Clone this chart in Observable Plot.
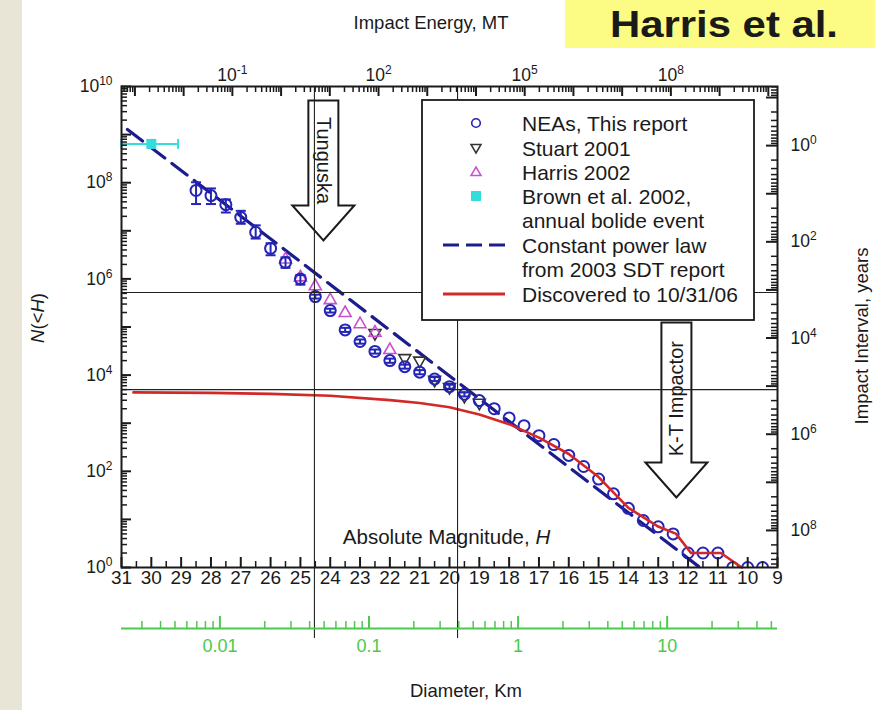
<!DOCTYPE html>
<html><head><meta charset="utf-8">
<script src="https://cdn.jsdelivr.net/npm/d3@7"></script>
<script src="https://cdn.jsdelivr.net/npm/@observablehq/plot@0.6"></script>
<style>
html,body{margin:0;padding:0;background:#fff;}
#chart{position:relative;width:875px;height:710px;overflow:hidden;}
</style></head><body><div id="chart"></div>
<script>
// ---------------- data ----------------
// NEAs, This report (absolute magnitude H, cumulative N(<H))
const neaH = [28.5,28,27.5,27,26.5,26,25.5,25,24.5,24,23.5,23,22.5,22,21.5,21,20.5,20,19.5,19,18.5,18,17.5,17,16.5,16,15.5,15,14.5,14,13.5,13,12.5,12,11.5,11,10.5,10,9.5];
const neaN = [6.9e7,5.4e7,3.5e7,1.9e7,9.3e6,4.3e6,2.2e6,1.0e6,4.3e5,2.2e5,8.7e4,5.0e4,3.1e4,2.0e4,1.5e4,1.15e4,8300,5750,4000,2950,2000,1290,890,550,360,214,126,69,34,17,9.5,7,5,2,2,2,1,1,1];
// NEA error bars
const errH  = [28.5,28,27.5,27,26.5,26,25.5,25,24.5,24,23.5,23,22.5,22,21.5,21,20.5,20,19.5];
const errLo = [3.6e7,3.6e7,2.4e7,1.4e7,6.9e6,3.1e6,1.7e6,7.6e5,3.9e5,2.0e5,7.9e4,4.5e4,2.8e4,1.8e4,1.36e4,1.04e4,7500,5200,3600];
const errHi = [1.02e8,7.6e7,4.5e7,2.6e7,1.3e7,5.5e6,2.8e6,1.2e6,4.7e5,2.4e5,9.6e4,5.5e4,3.4e4,2.2e4,1.65e4,1.27e4,9100,6300,4400];
// Stuart 2001
const stuartH = [22.5,21.5,21,20.5,20,19.5,19];
const stuartN = [7.3e4,2.2e4,1.95e4,7800,5500,3600,2600];
// Harris 2002
const harrisH = [25.5,25,24.5,24,23.5,23,22.5,22];
const harrisN = [2.6e6,1.1e6,7.2e5,3.7e5,2.0e5,1.17e5,7.8e4,3.4e4];
// Brown et al. 2002, annual bolide event
const brownH = [30], brownN = [6.4e8], brownHlo = [31], brownHhi = [29.1];
// Constant power law from 2003 SDT report
const powerH = [30.8, 11.6];
const powerN = [1.28e9, 1];
// Discovered to 10/31/06
const discH = [30.6,28,26,24,22,21,20,19,18,17,16,15,14,13,12.4,11.9,10.9,10.2];
const discN = [4365,4266,4074,3715,3020,2630,2138,1514,955,501,229,76,17.4,7.1,5.0,2.0,2.0,1];
// reference lines
const refH = [24.53, 19.73];
const refN = [5.2e5, 5000];
// annotations (arrow tips) and their labels
const arrowNames = ["Tunguska", "K-T Impactor"];
const arrowH = [24.23, 12.39];
const arrowN = [6.3e6, 28.5];
const arrowLabelN = [2.9e8, 3240];
// tick labels
const hLabels = [31,30,29,28,27,26,25,24,23,22,21,20,19,18,17,16,15,14,13,12,11,10,9];
const nLabelExp = [0,2,4,6,8,10];
const energyLabelExp = [-1,2,5,8];
const intervalLabelExp = [0,2,4,6,8];
const diamLabels = ["0.01","0.1","1","10"];
const legendLabels = ["NEAs, This report","Stuart 2001","Harris 2002","Brown et al. 2002,","annual bolide event","Constant power law","from 2003 SDT report","Discovered to 10/31/06"];

// ---------------- secondary-axis conversions ----------------
const energyToH = E => 22.38 - (Math.log10(E) - 2) / 0.612;
const intervalToN = I => 5.9e8 / I;
const diamToH = D => 17.7 - 5 * Math.log10(D);

function logTicks(lo, hi) {
  const major = [], minor = [];
  for (let k = lo; k <= hi; k++) { major.push(Math.pow(10, k)); for (let m = 2; m <= 9; m++) minor.push(m * Math.pow(10, k)); }
  return {major, minor};
}
const inH = h => h <= 31.001 && h >= 8.999;
const inN = n => n >= 0.999 && n <= 1.001e10;

const nT = logTicks(0, 9); nT.major.push(1e10);
const eT = logTicks(-4, 10);
const eMajor = eT.major.filter(e => inH(energyToH(e)));
const eMinor = eT.minor.filter(e => inH(energyToH(e)));
const iT = logTicks(-2, 9);
const iMajor = iT.major.filter(i => inN(intervalToN(i)));
const iMinor = iT.minor.filter(i => inN(intervalToN(i)));
const dT = logTicks(-3, 1);
const dMajor = dT.major.filter(d => inH(diamToH(d)));
const dMinor = dT.minor.filter(d => inH(diamToH(d)));
const hMajor = d3.range(9, 31.5, 1);
const hMinor = d3.range(9.5, 31, 1);

// ---------------- styling ----------------
const W = 875, H = 710, mL = 121, mR = 98, mT = 86, mB = 143;
const fw = W - mL - mR, fh = H - mT - mB;
const blue = "#2424b6", navy = "#1c1c8c", red = "#d32828", magenta = "#cc4fd0", cyan = "#35dcdc", green = "#4cc94c", ink = "#1a1a1a";
const FONT = "'Liberation Sans', Arial, sans-serif";

const nea = neaH.map((h, i) => ({h, n: neaN[i]}));
const neaErr = errH.map((h, i) => ({h, lo: errLo[i], hi: errHi[i]}));
const stuart = stuartH.map((h, i) => ({h, n: stuartN[i]}));
const harris = harrisH.map((h, i) => ({h, n: harrisN[i]}));
const brown = brownH.map((h, i) => ({h, n: brownN[i], lo: brownHlo[i], hi: brownHhi[i]}));
const power = powerH.map((h, i) => ({h, n: powerN[i]}));
const disc = discH.map((h, i) => ({h, n: discN[i]}));
const arrows = arrowNames.map((name, i) => ({name, h: arrowH[i], n: arrowN[i], ln: arrowLabelN[i]}));
const yMin = 1; // bottom of the y domain: points sitting on it are cut by the frame

const capH = {draw(c) { c.moveTo(-5, 0); c.lineTo(5, 0); }};
const capV = {draw(c) { c.moveTo(0, -5); c.lineTo(0, 5); }};
const triUp = {draw(c) { c.moveTo(0, -6.5); c.lineTo(6, 4); c.lineTo(-6, 4); c.closePath(); }};
const triDown = {draw(c) { c.moveTo(0, 6.5); c.lineTo(6, -4); c.lineTo(-6, -4); c.closePath(); }};
const squareSym = {draw(c) { c.rect(-5, -5, 10, 10); }};
const halfCircle = {draw(c) { c.moveTo(5.5, 0); c.arc(0, 0, 5.5, 0, Math.PI, true); }};
function arrowSym(shaft) {
  return {draw(c) { const sw = 15, hw = 31, hh = 35;
    c.moveTo(0, 0); c.lineTo(-hw, -hh); c.lineTo(-sw, -hh); c.lineTo(-sw, -shaft);
    c.lineTo(sw, -shaft); c.lineTo(sw, -hh); c.lineTo(hw, -hh); c.closePath(); }};
}
const sup = e => "10^" + e;

const svg = Plot.plot({
  width: W, height: H,
  marginLeft: mL, marginRight: mR, marginTop: mT, marginBottom: mB,
  style: {fontFamily: FONT, fontSize: "17px", background: "transparent", overflow: "visible", color: ink},
  x: {type: "linear", domain: [31, 9], axis: null},
  y: {type: "log", domain: [1, 1e10], axis: null},
  marks: [
    // arrows (annotations)
    Plot.dot([arrows[0]], {x: "h", y: "n", symbol: arrowSym(140), r: 10, fill: "white", stroke: ink, strokeWidth: 2}),
    Plot.dot([arrows[1]], {x: "h", y: "n", symbol: arrowSym(175), r: 10, fill: "white", stroke: ink, strokeWidth: 2}),
    Plot.text([arrows[0]], {x: "h", y: "ln", text: "name", rotate: 90, fontSize: 20, fill: ink}),
    Plot.text([arrows[1]], {x: "h", y: "ln", text: "name", rotate: -90, fontSize: 20, fill: ink}),
    // power law
    Plot.line(power, {x: "h", y: "n", stroke: navy, strokeWidth: 3.2, strokeDasharray: "19,9"}),
    // Stuart, Harris
    Plot.dot(stuart, {x: "h", y: "n", symbol: triDown, r: 6, fill: "none", stroke: "#333", strokeWidth: 1.6}),
    Plot.dot(harris, {x: "h", y: "n", symbol: triUp, r: 6, fill: "none", stroke: magenta, strokeWidth: 1.6}),
    // NEA error bars
    Plot.ruleX(neaErr, {x: "h", y1: "lo", y2: "hi", stroke: blue, strokeWidth: 2}),
    Plot.dot(neaErr, {x: "h", y: "lo", symbol: capH, r: 5, fill: "none", stroke: blue, strokeWidth: 2}),
    Plot.dot(neaErr, {x: "h", y: "hi", symbol: capH, r: 5, fill: "none", stroke: blue, strokeWidth: 2}),
    // NEA circles (those on the bottom edge are cut by the frame)
    Plot.dot(nea.filter(d => d.n > yMin), {x: "h", y: "n", r: 5.5, fill: "none", stroke: blue, strokeWidth: 2}),
    Plot.dot(nea.filter(d => d.n <= yMin), {x: "h", y: "n", symbol: halfCircle, r: 5.5, fill: "none", stroke: blue, strokeWidth: 2}),
    // Brown
    Plot.ruleY(brown, {y: "n", x1: "lo", x2: "hi", stroke: cyan, strokeWidth: 2}),
    Plot.dot(brown, {x: "hi", y: "n", symbol: capV, r: 5, fill: "none", stroke: cyan, strokeWidth: 2}),
    Plot.dot(brown, {x: "lo", y: "n", symbol: capV, r: 5, fill: "none", stroke: cyan, strokeWidth: 2}),
    Plot.dot(brown, {x: "h", y: "n", symbol: squareSym, r: 5, fill: cyan, stroke: "none"}),
    // discovered
    Plot.line(disc, {x: "h", y: "n", stroke: red, strokeWidth: 2.6}),
    // absolute magnitude label
    Plot.text(["Absolute Magnitude, H"], {x: 20.1, y: 4.2, text: d => d, fontSize: 20.5, fill: ink}),
    // reference lines
    Plot.ruleX(refH, {x: d => d, insetBottom: -71, stroke: "#222", strokeWidth: 1.1, ariaLabel: "refx"}),
    Plot.ruleY(refN, {y: d => d, stroke: "#222", strokeWidth: 1.1}),
    // left axis ticks & labels
    Plot.ruleY(nT.major, {y: d => d, insetRight: fw - 10, stroke: ink, strokeWidth: 2}),
    Plot.ruleY(nT.minor, {y: d => d, insetRight: fw - 6, stroke: ink, strokeWidth: 1.5}),
    Plot.text(nLabelExp, {y: d => Math.pow(10, d), text: sup, frameAnchor: "left", dx: -9, textAnchor: "end", fontSize: 17.5, fill: ink}),
    // right axis (impact interval)
    Plot.ruleY(iMajor, {y: intervalToN, insetLeft: fw - 11, stroke: ink, strokeWidth: 2}),
    Plot.ruleY(iMinor, {y: intervalToN, insetLeft: fw - 6, stroke: ink, strokeWidth: 1.5}),
    Plot.text(intervalLabelExp, {y: d => intervalToN(Math.pow(10, d)), text: sup, frameAnchor: "right", dx: 13, textAnchor: "start", fontSize: 17.5, fill: ink}),
    // top axis (impact energy)
    Plot.ruleX(eMajor, {x: energyToH, insetBottom: fh - 10, stroke: ink, strokeWidth: 2}),
    Plot.ruleX(eMinor, {x: energyToH, insetBottom: fh - 6, stroke: ink, strokeWidth: 1.5}),
    Plot.text(energyLabelExp, {x: d => energyToH(Math.pow(10, d)), text: sup, frameAnchor: "top", dy: -18, fontSize: 17.5, fill: ink}),
    // bottom axis (H)
    Plot.ruleX(hMajor, {x: d => d, insetTop: fh - 10, stroke: ink, strokeWidth: 2}),
    Plot.ruleX(hMinor, {x: d => d, insetTop: fh - 6, stroke: ink, strokeWidth: 1.5}),
    Plot.text(hLabels, {x: d => d, frameAnchor: "bottom", dy: 16, fontSize: 19, fill: ink}),
    // diameter axis (green)
    Plot.ruleY([1], {y: d => d, dy: 61, stroke: green, strokeWidth: 2}),
    Plot.ruleX(dMajor, {x: diamToH, insetTop: 542 - 12, insetBottom: -61, stroke: green, strokeWidth: 2}),
    Plot.ruleX(dMinor, {x: diamToH, insetTop: 542 - 7, insetBottom: -61, stroke: green, strokeWidth: 1.5}),
    Plot.text(diamLabels, {x: d => diamToH(+d), text: d => d, frameAnchor: "bottom", dy: 84, fontSize: 18, fill: green}),
    Plot.frame({stroke: ink, strokeWidth: 2})
  ]
});

const ns = "http://www.w3.org/2000/svg";
// superscripts for 10^k labels
svg.querySelectorAll("text").forEach(t => {
  const m = /^10\^(-?\d+)$/.exec(t.textContent);
  if (m) {
    t.textContent = "10";
    const ts = document.createElementNS(ns, "tspan");
    ts.setAttribute("dy", "-7");
    ts.style.fontSize = "12px";
    ts.textContent = m[1];
    t.appendChild(ts);
  }
  if (t.textContent === "Absolute Magnitude, H") {
    t.textContent = "Absolute Magnitude, ";
    const ts = document.createElementNS(ns, "tspan");
    ts.setAttribute("font-style", "italic");
    ts.textContent = "H";
    t.appendChild(ts);
  }
});

const s = d3.select(svg);
// background strip
s.insert("rect", ":first-child").attr("x", 0).attr("y", 0).attr("width", 22).attr("height", H).attr("fill", "#e8e5d7");

// legend (inserted below the reference lines)
const refG = svg.querySelector('g[aria-label="refx"]');
const lg = d3.create("svg:g").attr("font-family", FONT).attr("font-size", 21).attr("fill", ink).attr("text-anchor", "start");
lg.append("rect").attr("x", 422).attr("y", 100).attr("width", 332).attr("height", 220)
  .attr("fill", "white").attr("stroke", ink).attr("stroke-width", 1.8);
const rowY = [123, 148, 172, 196, 220, 245, 269, 294];
legendLabels.forEach((lab, i) => {
  lg.append("text").attr("x", 522).attr("y", rowY[i]).attr("dy", "0.36em").attr("text-anchor", "start").text(lab);
});
const sx = 476;
lg.append("circle").attr("cx", sx).attr("cy", rowY[0]).attr("r", 4.3).attr("fill", "none").attr("stroke", blue).attr("stroke-width", 1.6);
lg.append("path").attr("d", `M${sx},${rowY[1]+5}L${sx+5},${rowY[1]-3.5}L${sx-5},${rowY[1]-3.5}Z`).attr("fill", "none").attr("stroke", "#333").attr("stroke-width", 1.5);
lg.append("path").attr("d", `M${sx},${rowY[2]-5}L${sx+5},${rowY[2]+3.5}L${sx-5},${rowY[2]+3.5}Z`).attr("fill", "none").attr("stroke", magenta).attr("stroke-width", 1.5);
lg.append("rect").attr("x", sx - 5).attr("y", rowY[3] - 5).attr("width", 10).attr("height", 10).attr("fill", cyan);
lg.append("line").attr("x1", 443).attr("x2", 505).attr("y1", rowY[5]).attr("y2", rowY[5]).attr("stroke", navy).attr("stroke-width", 3).attr("stroke-dasharray", "16,7");
lg.append("line").attr("x1", 443).attr("x2", 505).attr("y1", rowY[7]).attr("y2", rowY[7]).attr("stroke", red).attr("stroke-width", 3);
svg.insertBefore(lg.node(), refG);

// titles
const tg = s.append("g").attr("font-family", FONT).attr("fill", ink);
tg.append("text").attr("x", 431).attr("y", 23).attr("dy", "0.35em").attr("text-anchor", "middle").attr("font-size", 18.5).text("Impact Energy, MT");
tg.append("text").attr("x", 466).attr("y", 691).attr("dy", "0.35em").attr("text-anchor", "middle").attr("font-size", 18.5).text("Diameter, Km");
tg.append("text").attr("transform", "translate(862,336) rotate(-90)").attr("dy", "0.35em").attr("text-anchor", "middle").attr("font-size", 18.5).text("Impact Interval, years");
const nl = tg.append("text").attr("transform", "translate(38,318) rotate(-90)").attr("dy", "0.35em").attr("text-anchor", "middle").attr("font-size", 18.5);
nl.append("tspan").attr("font-style", "italic").text("N");
nl.append("tspan").text("(<");
nl.append("tspan").attr("font-style", "italic").text("H");
nl.append("tspan").text(")");
// title box
tg.append("rect").attr("x", 565).attr("y", 0).attr("width", 310).attr("height", 48).attr("fill", "#fcfc84");
tg.append("text").attr("x", 724).attr("y", 24).attr("dy", "0.36em").attr("text-anchor", "middle")
  .attr("font-size", 36).attr("font-weight", "bold").attr("textLength", 228).attr("lengthAdjust", "spacingAndGlyphs").text("Harris et al.");

document.getElementById("chart").appendChild(svg);
</script>
</body></html>
